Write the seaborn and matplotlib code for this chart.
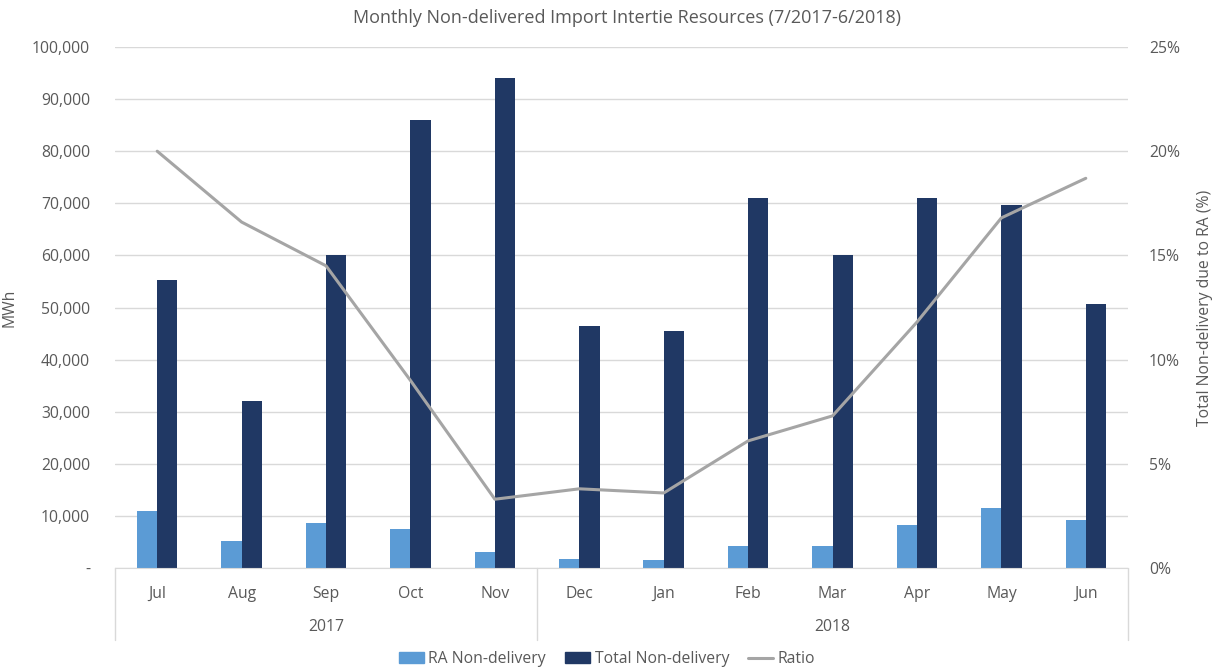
import numpy as np
import pandas as pd
import matplotlib.pyplot as plt
import seaborn as sns
from matplotlib.lines import Line2D
from matplotlib.patches import Patch
from matplotlib.ticker import FuncFormatter

months = ['Jul', 'Aug', 'Sep', 'Oct', 'Nov', 'Dec', 'Jan', 'Feb', 'Mar', 'Apr', 'May', 'Jun']
years = ['2017', '2018']
ra_nondelivery = [11000, 5200, 8700, 7500, 3000, 1700, 1500, 4300, 4300, 8200, 11500, 9300]
total_nondelivery = [55300, 32000, 60000, 86000, 94000, 46500, 45500, 71000, 60000, 71000, 69700, 50700]
ratio = [20.0, 16.6, 14.5, 9.0, 3.3, 3.8, 3.6, 6.1, 7.3, 11.8, 16.8, 18.7]

LIGHT = '#5B9BD5'
DARK = '#203864'
LINE = '#A5A5A5'
TXT = '#595959'
GRID = '#D9D9D9'
FS = 11.3

sns.set_style('white')
plt.rcParams['font.family'] = ['Open Sans', 'DejaVu Sans']

df = pd.DataFrame({
    'month': months * 2,
    'value': ra_nondelivery + total_nondelivery,
    'series': ['RA Non-delivery'] * 12 + ['Total Non-delivery'] * 12,
})

fig = plt.figure(figsize=(12.14, 6.71), dpi=100)
W, H = 1214, 671
left, right, top, bottom = 115, 1128, 47, 568
ax = fig.add_axes([left / W, (H - bottom) / H, (right - left) / W, (bottom - top) / H])

sns.barplot(data=df, x='month', y='value', hue='series', order=months,
            palette=[LIGHT, DARK], width=0.48, gap=0, ax=ax, legend=False,
            saturation=1, linewidth=0, zorder=2)
ax.set_ylim(0, 100000)
ax.set_xlim(-0.5, 11.5)
ax.set_yticks(np.arange(0, 100001, 10000))
ax.yaxis.set_major_formatter(FuncFormatter(lambda v, p: '-' if v == 0 else f'{int(v):,}'))
ax.grid(axis='y', color=GRID, linewidth=1, zorder=0)
ax.set_axisbelow(True)
for s in ['top', 'right', 'left']:
    ax.spines[s].set_visible(False)
ax.spines['bottom'].set_color(GRID)
ax.tick_params(axis='both', length=0, colors=TXT, labelsize=FS)
ax.tick_params(axis='x', pad=13)
ax.tick_params(axis='y', pad=18)
ax.set_xlabel('')
ax.set_ylabel('MWh', color=TXT, fontsize=FS, labelpad=10)

ax2 = ax.twinx()
sns.lineplot(x=np.arange(len(months)), y=np.array(ratio) / 100, ax=ax2,
             color=LINE, linewidth=2.2, zorder=3)
ax2.set_ylim(0, 0.25)
ax2.set_yticks(np.arange(0, 0.251, 0.05))
ax2.yaxis.set_major_formatter(FuncFormatter(lambda v, p: f'{v * 100:.0f}%'))
for s in ax2.spines.values():
    s.set_visible(False)
ax2.tick_params(axis='y', length=0, colors=TXT, labelsize=FS, pad=15)
ax2.set_ylabel('Total Non-delivery due to RA (%)', color=TXT, fontsize=FS, labelpad=12)

# two-level category axis: separators and year labels
trans = ax.get_xaxis_transform()
for xs in [-0.5, 4.5, 11.5]:
    ax.plot([xs, xs], [0, -0.138], transform=trans, color=GRID, linewidth=1, clip_on=False)
ax.text(2, -0.113, years[0], transform=trans, ha='center', va='center', color=TXT, fontsize=FS)
ax.text(8, -0.113, years[1], transform=trans, ha='center', va='center', color=TXT, fontsize=FS)

fig.text(627 / W, 1 - 18 / H, 'Monthly Non-delivered Import Intertie Resources (7/2017-6/2018)',
         ha='center', va='center', color=TXT, fontsize=13)

handles = [Patch(color=LIGHT, label='RA Non-delivery'),
           Patch(color=DARK, label='Total Non-delivery'),
           Line2D([0], [0], color=LINE, linewidth=2.2, label='Ratio')]
fig.legend(handles=handles, loc='center', bbox_to_anchor=(0.5, 1 - 659 / H), ncol=3,
           frameon=False, fontsize=FS, labelcolor=TXT, handlelength=1.6,
           handleheight=0.7, columnspacing=1.2, handletextpad=0.3)

fig.savefig('out.png', dpi=100)
